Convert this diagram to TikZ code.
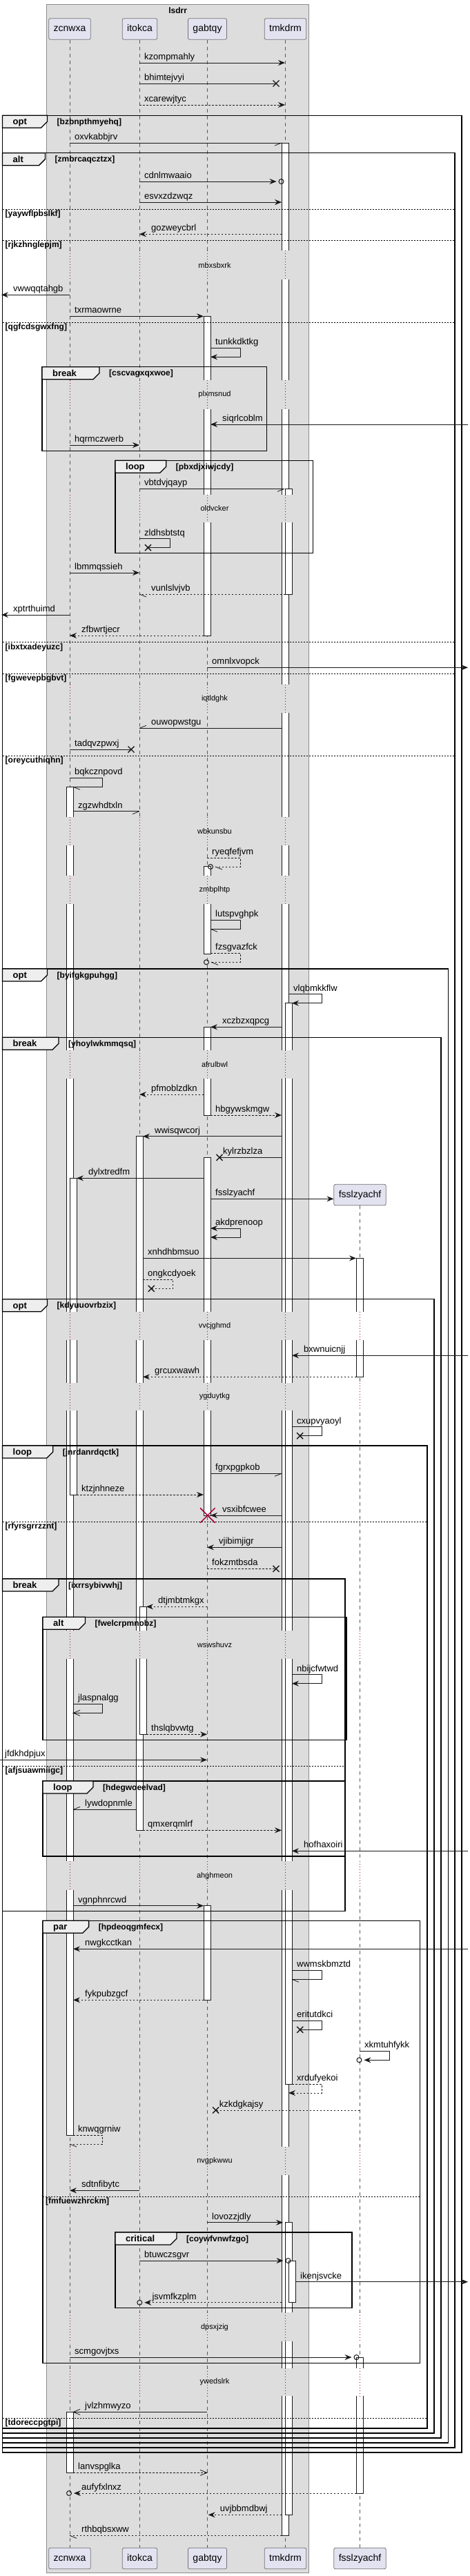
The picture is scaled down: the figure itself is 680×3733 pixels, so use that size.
\documentclass[tikz,border=0pt]{standalone}
\usepackage{fontspec}
\setmainfont{Liberation Sans}
\usetikzlibrary{arrows.meta,calc,decorations.markings,shapes.misc,positioning}
\definecolor{boxfill}{HTML}{DDDDDD}
\definecolor{partfill}{HTML}{E2E2F0}
\definecolor{tabfill}{HTML}{EEEEEE}
\definecolor{delaydot}{HTML}{A80036}
\definecolor{ink}{HTML}{181818}
\tikzset{
%Define standard arrow tip
>={Stealth[length=10pt,width=8pt,inset=3.5pt]},
%Define style for participants, lifelines and bars
participant/.style={draw=black!55, fill=partfill, rounded corners=2.5pt, line width=0.8pt,
  minimum height=30.6pt, inner xsep=7pt, text height=10pt, text depth=3pt,
  font=\fontsize{14}{16}\selectfont},
lifeline/.style={draw=black!65, line width=0.8pt, dash pattern=on 5pt off 5pt},
delayline/.style={draw=delaydot, line width=0.8pt, dash pattern=on 1pt off 3pt},
delaytext/.style={inner sep=0pt, font=\fontsize{11}{13}\selectfont},
actbar/.style={draw=ink, fill=white, line width=0.8pt},
%Define style for fragments
fragline/.style={draw=black, line width=1.3pt},
sepline/.style={draw=black, line width=0.8pt, dash pattern=on 2pt off 2pt},
fragkey/.style={anchor=base west, inner sep=0pt, font=\bfseries\fontsize{13}{15}\selectfont},
fragguard/.style={anchor=base west, inner sep=0pt, font=\bfseries\fontsize{12}{14}\selectfont},
%Define style for messages
msgline/.style={draw=ink, line width=0.8pt},
ret/.style={dash pattern=on 2.5pt off 2.5pt},
msglabel/.style={anchor=base west, inner sep=0pt, font=\fontsize{13}{15}\selectfont},
endmark/.style={postaction={decorate,decoration={markings,mark=at position 1 with {#1}}}},
halfR/.style={endmark={\draw[solid,line width=0.8pt] (0,0) -- (-10pt,-4pt);}},
halfL/.style={endmark={\draw[solid,line width=0.8pt] (0,0) -- (-10pt,4pt);}},
openhead/.style={endmark={\draw[solid,line width=0.8pt] (-10pt,4pt) -- (0,0) -- (-10pt,-4pt);}},
lost/.style={endmark={\draw[solid,line width=1.4pt] (-4.5pt,-4.5pt) -- (4.5pt,4.5pt) (-4.5pt,4.5pt) -- (4.5pt,-4.5pt);},
  /utils/exec={\gdef\lbloff{5}}},
circ/.style={endmark={\draw[solid,line width=1pt] (7pt,0) circle (3.5pt);},
  /utils/exec={\gdef\lbloff{11}}},
}
%A message: [style]{x from}{x to}{y}{text}
\newcommand\msg[5][]{%
  \gdef\lbloff{17}%
  \coordinate (src) at (#2,#4);
  \coordinate (dst) at (#3,#4);
  \draw[msgline,#1] (src) -- (dst);
  \ifdim #2pt<#3pt
    \node[msglabel] (#5) at ($(src)+(7,-4.5)$) {#5};
  \else
    \node[msglabel] (#5) at ($(dst)+(\lbloff,-4.5)$) {#5};
  \fi}
%A message to self: [style]{x start}{x back}{x right}{y}{text}
\newcommand\selfmsg[6][]{%
  \coordinate (src) at (#2,#5);
  \coordinate (dst) at (#3,#5+13);
  \draw[msgline,#1] (src) -- (#4,#5) -- (#4,#5+13) -- (dst);
  \node[msglabel] (#6) at ($(src)+(7,-4.5)$) {#6};}
%An activation: {x left}{y from}{y to}
\newcommand\actbox[3]{\draw[actbar] (#1,#2) rectangle (#1+10,#3);}
%A delay: {y from}{y to}{text}
\newcommand\delaygap[3]{%
  \foreach \px in {101,202,300,413} {
    \fill[boxfill] (\px-17,#1) rectangle (\px+17,#2);
    \draw[delayline] (\px,#1) -- (\px,#2);
  }
  \ifdim #1pt>1747pt
    \fill[white] (509,#1) rectangle (533,#2);
    \draw[delayline] (521,#1) -- (521,#2);
  \fi
  \node[delaytext] (#3) at (311,{(#1+#2)/2}) {#3};}
%A fragment: {left}{top}{right}{bottom}{tab right}{keyword}{guard}
\newcommand\frag[7]{%
  \draw[fragline] (#1,#2) rectangle (#3,#4);
  \draw[fragline, fill=tabfill] (#1,#2) -- (#5,#2) -- (#5,#2+9) -- (#5-9,#2+18) -- (#1,#2+18) -- cycle;
  \node[fragkey] (#7-key) at (#1+15,#2+13.5) {#6};
  \node[fragguard] (#7) at (#5+14,#2+13) {[#7]};}
%A fragment separator: {left}{right}{y}{guard}
\newcommand\fragsep[4]{%
  \draw[sepline] (#1,#3) -- (#2,#3);
  \node[fragguard] (#4) at (#1+4,#3+10.5) {[#4]};}
\begin{document}
\begin{tikzpicture}[x=1pt,y=-1pt]
    \useasboundingbox (0,0) rectangle (680,3733);
    \fill[white] (0,0) rectangle (680,3733);
    %Draw the box round the first participants
    \draw[draw=black!45, fill=boxfill, line width=0.8pt] (67.6,6) rectangle (447.7,3728.3);
    \node[font=\bfseries\fontsize{12}{14}\selectfont, inner sep=0pt] (lsdrr) at (257.6,15.5) {lsdrr};
    %Participants, top and bottom
    \node[participant] (zcnwxa-top) at (101,42) {zcnwxa};
    \node[participant] (itokca-top) at (202.5,42) {itokca};
    \node[participant] (gabtqy-top) at (300.5,42) {gabtqy};
    \node[participant] (tmkdrm-top) at (413.5,42) {tmkdrm};
    \node[participant] (fsslzyachf-top) at (521.5,1731.5) {fsslzyachf};
    \node[participant] (zcnwxa-bot) at (101,3707.5) {zcnwxa};
    \node[participant] (itokca-bot) at (202.5,3707.5) {itokca};
    \node[participant] (gabtqy-bot) at (300.5,3707.5) {gabtqy};
    \node[participant] (tmkdrm-bot) at (413.5,3707.5) {tmkdrm};
    \node[participant] (fsslzyachf-bot) at (521.5,3707.5) {fsslzyachf};
    %Draw lifelines
    \foreach \p in {zcnwxa,itokca,gabtqy,tmkdrm,fsslzyachf}
      \draw[lifeline] (\p-top) -- (\p-bot);
    %%%%%%%%%%%%%%%%%%%%%%
    %Activations
    %%%%%%%%%%%%%%%%%%%%%%
    %%tmkdrm
    \actbox{408}{207}{3674.3}
    \actbox{413}{708.3}{861}
    \actbox{413}{1453.3}{3020}
    \actbox{413}{3220.7}{3644.3}
    \actbox{418}{3276}{3336.7}
    %%gabtqy
    \actbox{295}{458.3}{921}
    \actbox{295}{1255.7}{1382}
    \actbox{295}{1488.3}{1616}
    \actbox{295}{1677.3}{2196}
    \actbox{295}{2761.7}{2898.3}
    %%itokca
    \actbox{197}{1646.7}{2652.3}
    \actbox{202}{2328.3}{2513.3}
    %%zcnwxa
    \actbox{96}{1140.3}{3094}
    \actbox{101}{1707.3}{2166}
    \actbox{96}{3495.3}{3583.3}
    %%fsslzyachf
    \actbox{516}{1823.3}{1995.3}
    \actbox{516}{3416}{3613}
    %Delays
    \delaygap{363.3}{405}{mbxsbxrk}
    \delaygap{550.7}{592.7}{plxmsnud}
    \delaygap{716.7}{756.7}{oldvcker}
    \delaygap{991.7}{1033.3}{iqtldghk}
    \delaygap{1184}{1225}{wbkunsbu}
    \delaygap{1269.3}{1310}{zmbplhtp}
    \delaygap{1521.7}{1563.3}{afrulbwl}
    \delaygap{1900.7}{1942.3}{vvcjghmd}
    \delaygap{2004}{2044}{ygduytkg}
    \delaygap{2362.7}{2404}{wswshuvz}
    \delaygap{2697.3}{2739}{ahghmeon}
    \delaygap{3110.7}{3151.7}{nvgpkwwu}
    \delaygap{3351}{3393.3}{dpsxjzig}
    \delaygap{3431.7}{3472.3}{ywedslrk}
    %%%%%%%%%%%%%%%%%%%%%%
    %Fragments, outer ones first
    %%%%%%%%%%%%%%%%%%%%%%
    \frag{3.5}{167.3}{669}{3554}{68.5}{opt}{bzbnpthmyehq}
    \frag{3.5}{221.7}{659}{3547}{65.4}{alt}{zmbrcaqcztzx}
    \fragsep{3.5}{659}{303}{yaywflpbslkf}
    \fragsep{3.5}{659}{348.3}{rjkzhnglepjm}
    \fragsep{3.5}{659}{467.3}{qgfcdsgwxfng}
    \fragsep{3.5}{659}{930.5}{ibxtxadeyuzc}
    \fragsep{3.5}{659}{976}{fgwevepbgbvt}
    \fragsep{3.5}{659}{1095}{oreycuthiqhn}
    \frag{61}{531.7}{386.3}{653.3}{144}{break}{cscvagxqxwoe}
    \frag{167}{667.3}{453.8}{801.7}{240.7}{loop}{pbxdjxiwjcdy}
    \frag{3.5}{1404}{649.6}{3540}{68.5}{opt}{byifgkgpuhgg}
    \frag{3.5}{1503.3}{639}{3533}{85}{break}{yhoylwkmmqsq}
    \frag{3.5}{1882.7}{629}{3526}{68.5}{opt}{kdyuuovrbzix}
    \frag{3.5}{2095}{619}{3519}{76.7}{loop}{jnrdanrdqctk}
    \fragsep{3.5}{619}{2205}{rfyrsgrrzznt}
    \fragsep{3.5}{619}{3504.3}{tdoreccpgtpi}
    \frag{3.5}{2288}{500}{2769.3}{85}{break}{ixrrsybivwhj}
    \fragsep{3.5}{500}{2559.3}{afjsuawmiigc}
    \frag{62}{2343.3}{502}{2521.3}{123.4}{alt}{fwelcrpmnobz}
    \frag{62}{2581}{500}{2690}{135}{loop}{hdegwoeelvad}
    \frag{62}{2783.3}{608.6}{3424.3}{128.6}{par}{hpdeoqgmfecx}
    \fragsep{62}{608.6}{3183.3}{fmfuewzhrckm}
    \frag{167}{3235}{510}{3344.3}{256}{critical}{coywfvnwfzgo}
    %%%%%%%%%%%%%%%%%%%%%%
    %Messages, top to bottom
    %%%%%%%%%%%%%%%%%%%%%%
    \msg[->]{202}{413}{91}{kzompmahly}
    \msg[lost]{202}{400}{121}{bhimtejvyi}
    \msg[->,ret]{202}{413}{152}{xcarewjtyc}
    \msg[halfR]{101}{408}{207}{oxvkabbjrv}
    \msg[->,circ]{202}{400.5}{263}{cdnlmwaaio}
    \msg[->]{202}{408}{293}{esvxzdzwqz}
    \msg[->,ret]{408}{202}{339.3}{gozweycbrl}
    \msg[->]{101}{2}{427.3}{vwwqqtahgb}
    \msg[->]{101}{295}{458.3}{txrmaowrne}
    \selfmsg[->]{305}{305}{348}{504.3}{tunkkdktkg}
    \msg[->]{678}{305}{615}{siqrlcoblm}
    \msg[->]{101}{202}{645}{hqrmczwerb}
    \msg[halfR]{202}{412}{708.3}{vbtdvjqayp}
    \selfmsg[lost]{202}{214.5}{246}{780.7}{zldhsbtstq}
    \msg[->]{101}{202}{830}{lbmmqssieh}
    \msg[halfL,ret]{413}{202}{861}{vunlslvjvb}
    \msg[->]{101}{2}{891}{xptrthuimd}
    \msg[->,ret]{295}{101}{921}{zfbwrtjecr}
    \msg[->]{300}{678}{967.3}{omnlxvopck}
    \msg[halfR]{408}{202}{1055.3}{ouwopwstgu}
    \msg[lost]{101}{190}{1086}{tadqvzpwxj}
    \selfmsg[halfL]{101}{106}{148}{1127.3}{bqkcznpovd}
    \msg[halfR]{106}{202}{1175.7}{zgzwhdtxln}
    \selfmsg[halfL,circ,ret]{300}{312}{348}{1243}{ryeqfefjvm}
    \selfmsg[halfL]{305}{305}{348}{1333.3}{lutspvghpk}
    \selfmsg[halfL,circ,ret]{305}{306}{348}{1381.3}{fzsgvazfck}
    \selfmsg[->]{418}{423}{466}{1440.7}{vlqbmkkflw}
    \msg[->]{408}{305}{1488.3}{xczbzxqpcg}
    \msg[->,ret]{295}{202}{1586}{pfmoblzdkn}
    \msg[->,ret]{305}{408}{1616}{hbgywskmgw}
    \msg[->]{408}{207}{1646.7}{wwisqwcorj}
    \msg[lost]{408}{318}{1677.3}{kylrzbzlza}
    \msg[->]{295}{111}{1707.3}{dylxtredfm}
    \msg[->]{305}{483.5}{1737.3}{fsslzyachf}
    \selfmsg[<->]{305}{305}{348}{1780}{akdprenoop}
    \msg[->]{207}{516}{1823.3}{xnhdhbmsuo}
    \selfmsg[lost,ret]{207}{219.3}{250.7}{1854.3}{ongkcdyoek}
    \msg[->]{678}{423}{1964.3}{bxwnuicnjj}
    \msg[->,ret]{516}{207}{1995.3}{grcuxwawh}
    \selfmsg[lost]{423}{434.7}{466}{2067.7}{cxupvyaoyl}
    \msg[halfR]{305}{408}{2135.3}{fgrxpgpkob}
    \msg[->,ret]{111}{295}{2166}{ktzjnhneze}
    \msg[->]{408}{305}{2196}{vsxibfcwee}
    \node[draw=delaydot, cross out, line width=1.5pt, minimum size=20pt, inner sep=0pt] (gabtqy-x) at (300.8,2196) {};
    \msg[->]{408}{300}{2242.3}{vjibimjigr}
    \msg[lost,ret]{300}{400}{2273.3}{fokzmtbsda}
    \msg[->,ret]{300}{212}{2328.3}{dtjmbtmkgx}
    \selfmsg[->]{423}{423}{466}{2426.7}{nbijcfwtwd}
    \selfmsg[openhead]{106}{106}{148}{2469.3}{jlaspnalgg}
    \msg[->,ret]{212}{300}{2513.3}{thslqbvwtg}
    \msg[->]{0}{300}{2550.3}{jfdkhdpjux}
    \msg[halfR]{197}{106}{2622.3}{lywdopnmle}
    \msg[->,ret]{207}{408}{2652.3}{qmxerqmlrf}
    \msg[->]{678}{423}{2682.3}{hofhaxoiri}
    \msg[->]{106}{295}{2761.7}{vgnphnrcwd}
    \msg[->]{678}{106}{2824.3}{nwgkcctkan}
    \selfmsg[halfL]{423}{423}{466}{2855.3}{wwmskbmztd}
    \msg[->,ret]{295}{106}{2898.3}{fykpubzgcf}
    \selfmsg[lost]{423}{434.7}{466}{2928.3}{eritutdkci}
    \selfmsg[->,circ]{521}{527.5}{564.6}{2972.3}{xkmtuhfykk}
    \selfmsg[->,ret]{423}{418}{466}{3020}{xrdufyekoi}
    \msg[lost,ret]{521}{312.6}{3058}{kzkdgkajsy}
    \selfmsg[halfL,ret]{106}{101}{148}{3094}{knwqgrniw}
    \msg[->]{202}{101}{3174.3}{sdtnfibytc}
    \msg[->]{300}{410}{3220.7}{lovozzjdly}
    \msg[->,circ]{202}{410.5}{3276}{btuwczsgvr}
    \msg[->]{428}{678}{3306.7}{ikenjsvcke}
    \msg[->,circ,ret]{408}{209.3}{3336.7}{jsvmfkzplm}
    \msg[->,circ]{101}{509.5}{3416}{scmgovjtxs}
    \msg[openhead]{300}{106}{3495.3}{jvlzhmwyzo}
    \msg[openhead,ret]{106}{300}{3583.3}{lanvspglka}
    \msg[->,circ,ret]{516}{107}{3613}{aufyfxlnxz}
    \msg[->,ret]{408}{301.7}{3644.3}{uvjbbmdbwj}
    \msg[halfL,ret]{408}{101}{3674.3}{rthbqbsxww}
\end{tikzpicture}
\end{document}
